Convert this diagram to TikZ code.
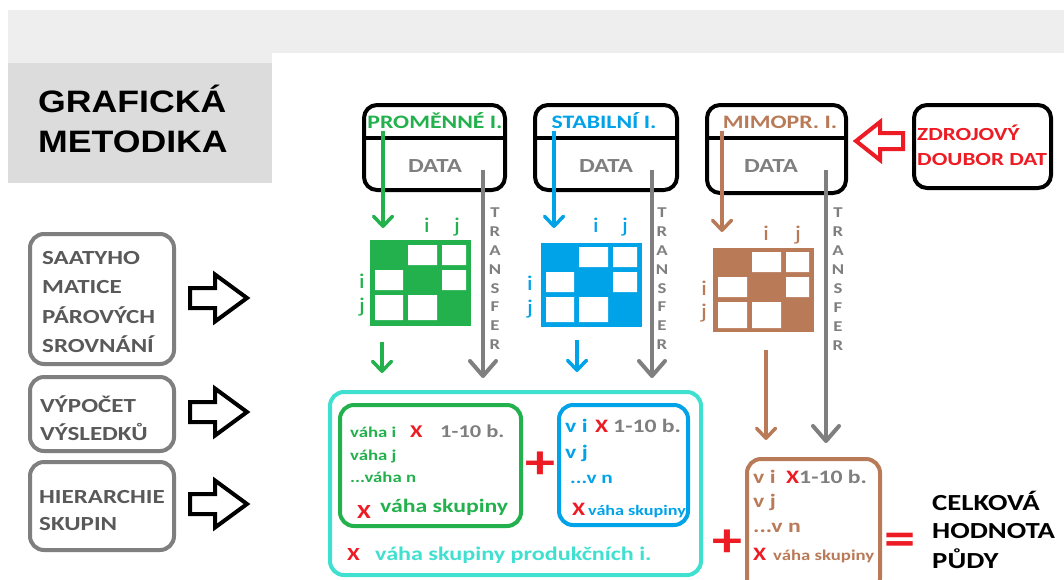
\documentclass[tikz,border=0pt]{standalone}
\usepackage{fontspec}
\usetikzlibrary{arrows.meta}
\newfontfamily\cf[FakeStretch=1.25]{Carlito}
\newfontfamily\af[FakeStretch=1.15]{Liberation Sans}
\newcommand\myfs[1]{\fontsize{#1}{#1}\selectfont}
\definecolor{pgreen}{HTML}{22B14C}
\definecolor{pblue}{HTML}{00A2E8}
\definecolor{pbrown}{HTML}{B97A57}
\definecolor{pturq}{HTML}{40E0D0}
\definecolor{pred}{HTML}{ED1C24}
\definecolor{pgray}{HTML}{7F7F7F}
\definecolor{dgray}{HTML}{595959}
\definecolor{bandc}{HTML}{EEEEEE}
\definecolor{titlebg}{HTML}{DCDCDC}
\tikzset{
  lab/.style={inner sep=0pt,anchor=base west,font=\cf\bfseries\myfs{#1}},
  lab/.default=19,
  clab/.style={inner sep=0pt,anchor=base,font=\cf\bfseries\myfs{#1}},
  clab/.default=19,
  lbox/.style={draw=pgray,line width=4pt,rounded corners=14pt,inner sep=0pt,minimum width=144pt},
  tbox/.style={draw=black,line width=4pt,rounded corners=13pt,inner sep=0pt},
  rbox/.style={line width=4pt,rounded corners=14pt},
  hollow/.style={line width=4pt,line join=miter},
  tarrow/.style={draw=pgray,line width=4pt,-{Straight Barb[length=15pt,width=26pt,round]}},
  carrow/.style={line width=3.5pt,-{Straight Barb[length=10pt,width=19pt,round]}},
  tl/.style={inner sep=0pt,anchor=center,text=pgray,font=\cf\bfseries\myfs{15}},
  ij/.style={inner sep=0pt,anchor=base,font=\cf\myfs{21}},
  sym/.style={inner sep=0pt,anchor=center,text=pred,font=\cf\bfseries\myfs{#1}},
}
\begin{document}
\begin{tikzpicture}[x=1pt,y=-1pt]
\useasboundingbox (0,0) rectangle (1064,579);
\clip (0,0) rectangle (1064,579);
\fill[white] (0,0) rectangle (1064,579);
% header band and title panel
\fill[bandc] (8,10) rectangle (1064,53);
\fill[bandc] (8,53) rectangle (272,63);
\fill[titlebg] (8,63) rectangle (272,183);
\node[inner sep=0pt,anchor=base west,font=\af\bfseries\myfs{31}] (t1) at (38,112) {GRAFICKÁ};
\node[inner sep=0pt,anchor=base west,font=\af\bfseries\myfs{31}] (t2) at (38,152) {METODIKA};

% left boxes
\node[lbox,minimum height=130pt] (L1) at (102,299) {};
\node[lab=20,text=dgray] (l11) at (42,264) {SAATYHO};
\node[lab=20,text=dgray] (l12) at (42,293) {MATICE};
\node[lab=20,text=dgray] (l13) at (42,323) {PÁROVÝCH};
\node[lab=20,text=dgray] (l14) at (42,352) {SROVNÁNÍ};
\node[lbox,minimum height=74pt] (L2) at (102,414) {};
\node[lab=20,text=dgray] (l21) at (40,412) {VÝPOČET};
\node[lab=20,text=dgray] (l22) at (40,440) {VÝSLEDKŮ};
\node[lbox,minimum height=88pt] (L3) at (102,506) {};
\node[lab=20,text=dgray] (l31) at (39,503) {HIERARCHIE};
\node[lab=20,text=dgray] (l32) at (39,530) {SKUPIN};
% hollow arrows
\foreach \c in {298,412,504}{
  \draw[hollow] (190,\c-10) -- (215,\c-10) -- (215,\c-23.5) -- (247,\c) -- (215,\c+23.5) -- (215,\c+10) -- (190,\c+10) -- cycle;
}

% top boxes
\node[tbox,minimum width=141pt,minimum height=85pt] (A) at (434.5,147.5) {};
\draw[line width=4pt] (A.west |- 0,138) -- (A.east |- 0,138);
\node[tbox,minimum width=142pt,minimum height=85pt] (B) at (606,147.5) {};
\draw[line width=4pt] (B.west |- 0,138) -- (B.east |- 0,138);
\node[tbox,minimum width=139pt,minimum height=88pt] (C) at (776.5,149) {};
\draw[line width=4pt] (C.west |- 0,138) -- (C.east |- 0,138);
\node[tbox,minimum width=137pt,minimum height=83pt] (D) at (982.5,146.5) {};
\node[clab,text=pgreen] (la) at (435,128) {PROMĚNNÉ I.};
\node[clab,text=pblue] (lb) at (604,128) {STABILNÍ I.};
\node[clab,text=pbrown] (lc) at (780,128) {MIMOPR. I.};
\node[clab=20,text=pgray] (da) at (435,172) {DATA};
\node[clab=20,text=pgray] (db) at (606,172) {DATA};
\node[clab=20,text=pgray] (dc) at (771,172) {DATA};
\node[lab=18.5,text=pred] (d1) at (917,140) {ZDROJOVÝ};
\node[lab=18.5,text=pred] (d2) at (917,165) {DOUBOR DAT};
\draw[hollow,draw=pred] (903,133) -- (880,133) -- (880,122) -- (856,141) -- (880,160) -- (880,149) -- (903,149) -- cycle;

% coordinates for arrows
\coordinate (ga0) at (383,131); \coordinate (ga1) at (383,228);
\coordinate (ba0) at (554,131); \coordinate (ba1) at (554,228);
\coordinate (ra0) at (722,131); \coordinate (ra1) at (722,232);
\coordinate (ga2) at (382,342); \coordinate (ga3) at (382,373);
\coordinate (ba2) at (577,340); \coordinate (ba3) at (577,372);
\coordinate (ra2) at (766,350); \coordinate (ra3) at (766,440);
\coordinate (t1a) at (483,170); \coordinate (t1b) at (483,378);
\coordinate (t2a) at (652,170); \coordinate (t2b) at (652,378);
\coordinate (t3a) at (826,170); \coordinate (t3b) at (826,443);
\draw[carrow,draw=pgreen] (ga0) -- (ga1);
\draw[carrow,draw=pblue] (ba0) -- (ba1);
\draw[carrow,draw=pbrown] (ra0) -- (ra1);
\draw[carrow,draw=pgreen] (ga2) -- (ga3);
\draw[carrow,draw=pblue] (ba2) -- (ba3);
\draw[carrow,draw=pbrown] (ra2) -- (ra3);
\draw[tarrow] (t1a) -- (t1b);
\draw[tarrow] (t2a) -- (t2b);
\draw[tarrow] (t3a) -- (t3b);
\foreach \L [count=\i] in {T,R,A,N,S,F,E,R}{
  \node[tl] (ta\i) at (495,{213+(\i-1)*18.8}) {\L};
  \node[tl] (tb\i) at (662,{213+(\i-1)*18.8}) {\L};
  \node[tl] (tc\i) at (838,{213+(\i-1)*19}) {\L};
}

% matrices
\node[fill=pgreen,inner sep=0pt,minimum width=101pt,minimum height=86pt] (MG) at (420.5,283) {};
\fill[white] (408,245) rectangle (437,265) (442,245) rectangle (466,265)
  (375,270) rectangle (403,290) (442,270) rectangle (466,290)
  (375,295) rectangle (403,320) (408,295) rectangle (437,320);
\node[fill=pblue,inner sep=0pt,minimum width=101pt,minimum height=84pt] (MB) at (591.5,285) {};
\fill[white] (579,247) rectangle (608,267) (613,247) rectangle (637,267)
  (546,272) rectangle (574,292) (613,272) rectangle (637,292)
  (546,297) rectangle (574,322) (579,297) rectangle (608,322);
\node[fill=pbrown,inner sep=0pt,minimum width=101pt,minimum height=84pt] (MR) at (763.5,290) {};
\fill[white] (752,252) rectangle (781,272) (786,252) rectangle (809,272)
  (718,277) rectangle (747,297) (786,277) rectangle (809,297)
  (718,302) rectangle (747,328) (752,302) rectangle (781,328);
% i j labels
\node[ij,text=pgreen] (gi1) at (427,232) {i};
\node[ij,text=pgreen] (gj1) at (457,232) {j};
\node[ij,text=pgreen] (gi2) at (362,288) {i};
\node[ij,text=pgreen] (gj2) at (362,312) {j};
\node[ij,text=pblue] (bi1) at (596,232) {i};
\node[ij,text=pblue] (bj1) at (625,232) {j};
\node[ij,text=pblue] (bi2) at (530,290) {i};
\node[ij,text=pblue] (bj2) at (530,314) {j};
\node[ij,text=pbrown] (ri1) at (766,240) {i};
\node[ij,text=pbrown] (rj1) at (798,240) {j};
\node[ij,text=pbrown] (ri2) at (704,295) {i};
\node[ij,text=pbrown] (rj2) at (704,318) {j};

% bottom boxes
\draw[rbox,draw=pturq] (330,392) rectangle (701,575);
\draw[rbox,draw=pgreen] (340,405) rectangle (521,526);
\draw[rbox,draw=pblue] (559,405) rectangle (688,525);
\draw[rbox,draw=pbrown] (747,459) rectangle (880,592);

% green box text
\node[lab=15,text=pgreen] (g1) at (350,437) {váha i};
\node[lab=18,text=pred] (gx1) at (410,437) {X};
\node[lab=18,text=pgray] (g1b) at (440,437) {1-10 b.};
\node[lab=15,text=pgreen] (g2) at (350,460) {váha j};
\node[lab=15,text=pgreen] (g3) at (350,482) {...váha n};
\node[lab=20,text=pred] (gx2) at (357,518) {X};
\node[lab=19,text=pgreen] (g4) at (380,512) {váha skupiny};
% blue box text
\node[lab=19,text=pblue] (b1) at (565,432) {v i};
\node[lab=19,text=pred] (bx1) at (595,432) {X};
\node[lab=19,text=pgray] (b1b) at (613,432) {1-10 b.};
\node[lab=19,text=pblue] (b2) at (565,458) {v j};
\node[lab=17,text=pblue] (b3) at (570,483) {...v n};
\node[lab=19,text=pred] (bx2) at (572,515) {X};
\node[lab=14.5,text=pblue] (b4) at (588,515) {váha skupiny};
% cyan line
\node[lab=18.5,text=pred] (cx) at (347,560) {X};
\node[lab=19.3,text=pturq] (c1) at (375,560) {váha skupiny produkčních i.};
% brown box text
\node[lab=19,text=pbrown] (r1) at (753,483) {v i};
\node[lab=19,text=pred] (rx1) at (786,483) {X};
\node[lab=19,text=pgray] (r1b) at (799,483) {1-10 b.};
\node[lab=19,text=pbrown] (r2) at (753,507) {v j};
\node[lab=19,text=pbrown] (r3) at (753,532) {...v n};
\node[lab=19,text=pred] (rx2) at (753,560) {X};
\node[lab=15,text=pbrown] (r4) at (773,560) {váha skupiny};
% operators
\node[sym=48] (p1) at (540,465) {+};
\node[sym=48] (p2) at (727,543) {+};
\node[sym=50] (eq) at (900,544) {=};
% result
\node[lab=23] (e1) at (932,510) {CELKOVÁ};
\node[lab=23] (e2) at (932,538) {HODNOTA};
\node[lab=23] (e3) at (932,568) {PŮDY};
\end{tikzpicture}
\end{document}
